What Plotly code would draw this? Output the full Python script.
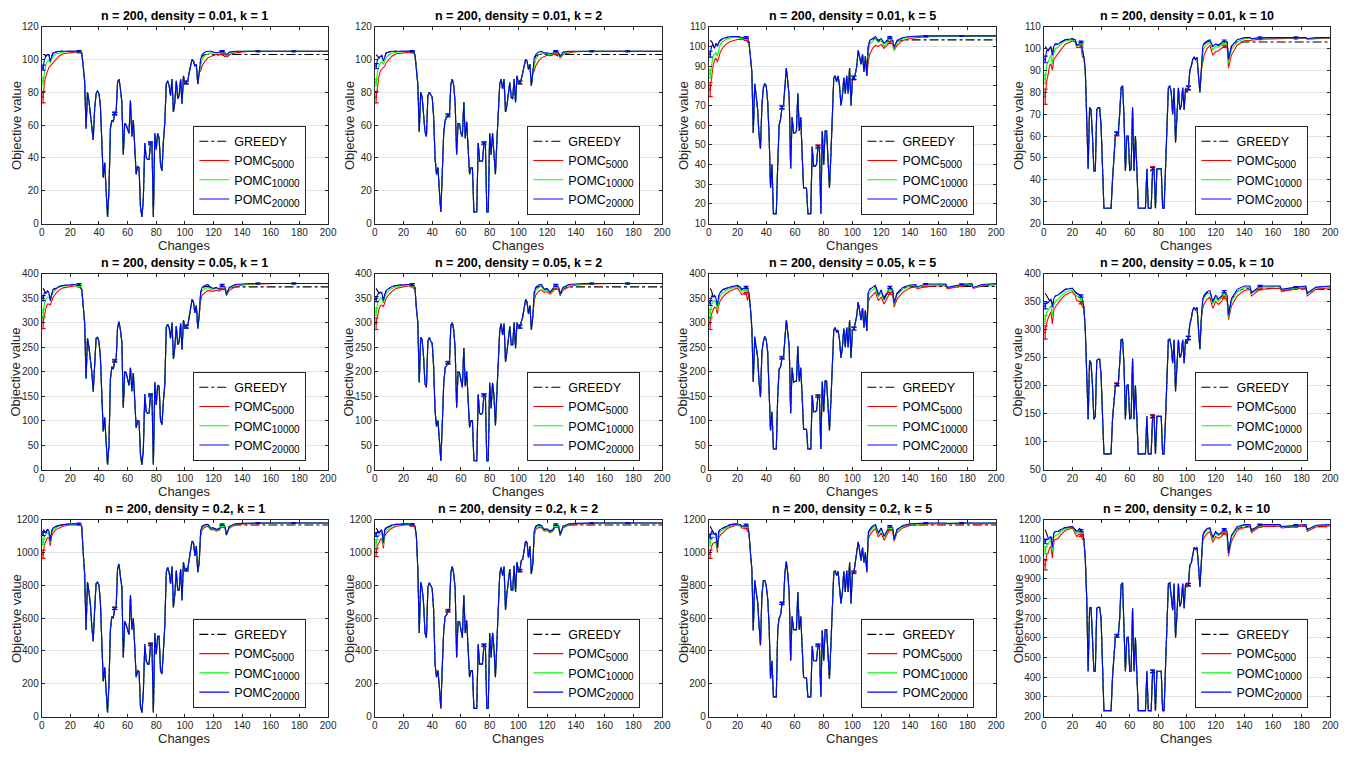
import plotly.graph_objects as go

# ---------------- x positions (changes) ----------------
HEAD_X = [1, 2, 3, 4, 5, 6, 7, 8, 10, 12, 15, 20, 22, 23, 25, 26, 27]
MID_X = list(range(28, 111))
TAIL_X = [111, 112, 114, 116, 118, 120, 122, 124, 126, 128, 129, 131, 135, 140,
          144, 145, 151, 165, 166, 176, 183, 184, 190, 200]
ERR_X = [1, 26, 51, 76, 101, 126, 151, 176]

SERIES = ["greedy", "red", "green", "blue"]
SUB = '<sub><span style="font-size:10px">{}</span></sub>'
NAMES = {"greedy": "GREEDY", "red": "POMC" + SUB.format("5000"),
         "green": "POMC" + SUB.format("10000"), "blue": "POMC" + SUB.format("20000")}

# ---------------- density 0.01 ----------------
HEAD_001_1 = dict(
    greedy=[103, 103, 102, 103, 103, 99, 102, 104, 104.5, 105, 105, 105, 105, 105, 105, 105, 105],
    red=[77, 86, 90, 93, 95, 96, 97, 98.5, 100.5, 102, 103.5, 104.3, 104.4, 104.5, 104.5, 104.5, 104],
    green=[87, 93, 97, 99, 99.5, 98, 100, 102, 103.5, 104, 104.6, 105, 105, 105, 105, 105, 104.5],
    blue=[95, 100, 102, 103, 103, 99, 102, 104, 104.5, 105, 105, 105, 105, 105, 105, 105, 105])
MID_001_1 = [104, 97, 87, 58, 80, 75, 67, 57, 51, 70,
             79, 81, 79, 72, 50, 28, 37, 15, 4, 20,
             58, 63, 62, 67, 68, 86, 88, 82, 74, 42,
             61, 60, 57, 55, 75, 53, 63, 47, 30, 35,
             34, 10, 4, 15, 49, 40, 39, 39, 49, 49,
             4, 55, 45, 55, 52, 36, 32, 50, 62, 85,
             87, 84, 78, 88, 68, 74, 87, 76, 78, 88,
             73, 90, 85, 86, 87, 92, 96, 100, 99, 96,
             97, 85, 92]
TAIL_001_1 = dict(
    greedy=[100, 102, 103, 103, 103, 103, 102, 103, 103, 102, 101, 103, 103, 103, 103, 103, 103, 103, 103, 103, 103, 103, 103, 103],
    red=[93, 96, 99, 101, 102, 102.5, 103, 103, 103.5, 103, 101.5, 103, 104, 104.7, 104.9, 105, 105, 105, 105, 105, 105, 105, 105, 105],
    green=[97, 100, 102.5, 103.5, 104, 104, 104, 104, 104.5, 103.5, 102.5, 104, 104.8, 105, 105, 105, 105, 105, 105, 105, 105, 105, 105, 105],
    blue=[100, 103, 104.5, 105, 105, 104.5, 104, 104.5, 105, 104, 103, 104.5, 105, 105, 105, 105, 105, 105, 105, 105, 105, 105, 105, 105])

HEAD_001_2 = dict(
    greedy=[103, 102, 101, 102, 102, 99, 102, 104, 104.5, 105, 105, 105, 105, 105, 105, 105, 105],
    red=[77, 85, 90, 93, 94, 95, 96, 98, 100, 102, 103.5, 104.2, 104.4, 104.5, 104.5, 104.5, 104],
    green=[86, 93, 96, 98, 98.5, 97, 99, 101, 103, 104, 104.5, 105, 105, 105, 105, 105, 104.5],
    blue=[96, 100, 101, 102, 102.5, 99, 102, 104, 104.5, 105, 105, 105, 105, 105, 105, 105, 105])
MID_001_2 = [103, 95, 85, 56, 80, 77, 68, 56, 53, 78,
             80, 78, 77, 65, 40, 30, 34, 20, 7, 30,
             55, 63, 65, 66, 66, 85, 88, 84, 73, 42,
             61, 61, 55, 53, 74, 52, 62, 45, 30, 34,
             34, 7, 7, 7, 49, 38, 38, 38, 49, 49,
             7, 7, 55, 42, 55, 45, 30, 50, 68, 85,
             88, 82, 88, 68, 72, 80, 86, 77, 76, 88,
             74, 90, 86, 86, 88, 92, 96, 100, 99, 94,
             97, 84, 92]
TAIL_001_2 = dict(
    greedy=[100, 102, 103, 103, 103, 103, 102, 103, 103, 102, 101, 103, 103, 103, 103, 103, 103, 103, 103, 103, 103, 103, 103, 103],
    red=[93, 96, 99, 101, 102, 102.5, 102.5, 103, 103.5, 103, 101, 103, 104, 104.7, 104.9, 105, 105, 105, 105, 105, 105, 105, 105, 105],
    green=[97, 100, 102.5, 104, 103.5, 103.5, 103, 103.5, 104.5, 103.5, 101.5, 104, 104.8, 105, 105, 105, 105, 105, 105, 105, 105, 105, 105, 105],
    blue=[101, 103, 104.5, 105, 104, 104, 103.5, 104, 105, 104, 102, 104.5, 105, 105, 105, 105, 105, 105, 105, 105, 105, 105, 105, 105])

HEAD_001_5 = dict(
    greedy=[103, 102.5, 101, 99, 101.5, 100, 102, 103, 104, 104.5, 105, 105, 104.5, 104.5, 104.5, 104.5, 104.5],
    red=[78, 86, 90, 93, 94, 92, 95, 97, 99.5, 101, 102.5, 103.5, 103.5, 103.5, 103.5, 103.5, 102],
    green=[86, 92, 95, 96, 97, 95, 99, 101, 102.5, 103.5, 104.3, 104.6, 104, 104, 104, 104, 103.5],
    blue=[96, 100, 101, 99, 101.5, 100, 102, 103, 104, 104.5, 105, 105, 104.5, 104.5, 104.5, 104.5, 104.5])
MID_001_5 = [102, 95, 87, 56, 81, 75, 68, 55, 48, 70,
             79, 81, 80, 72, 55, 28, 40, 15, 15, 15,
             40, 60, 63, 69, 70, 82, 89, 82, 74, 38,
             64, 56, 56, 57, 76, 57, 64, 45, 28, 28,
             28, 15, 15, 15, 49, 39, 39, 40, 49, 49,
             15, 57, 40, 57, 57, 45, 28, 45, 65, 84,
             85, 82, 85, 80, 70, 75, 84, 76, 85, 76,
             89, 70, 84, 84, 86, 90, 98, 94, 91, 96,
             87, 95, 85]
TAIL_001_5 = dict(
    greedy=[100, 102.5, 103.5, 104, 102.5, 103.5, 101.5, 103, 103.5, 103, 99.5, 102.5, 103.3, 103.3, 103.3, 103.3, 103.3, 103.3, 103.3, 103.3, 103.3, 103.3, 103.3, 103.3],
    red=[92, 96, 99, 100.5, 100, 101, 99, 100.5, 102, 101, 98, 100.5, 103, 104, 104.4, 104.6, 104.9, 105, 105, 105.2, 105.2, 105.2, 105.2, 105.2],
    green=[97, 101, 102.5, 104, 102, 103, 100, 102, 104, 102, 98.5, 102, 104, 104.8, 105, 105, 105.2, 105.2, 105.2, 105.2, 105.2, 105.2, 105.2, 105.2],
    blue=[100, 103, 104, 105, 103, 104, 101.5, 103, 104.5, 103, 99.5, 103, 104.5, 105, 105.2, 105.2, 105.3, 105.3, 105.3, 105.3, 105.3, 105.3, 105.3, 105.3])

HEAD_001_10 = dict(
    greedy=[101, 100, 99, 100, 101, 97, 101, 102, 102, 103, 104, 104.5, 104, 101.5, 102, 103, 100],
    red=[78, 85, 88, 92, 93, 90, 95, 96, 97.5, 99.5, 102, 103.5, 103, 100.5, 100.5, 101, 96],
    green=[86, 92, 94, 96, 97, 93, 98, 100, 100.5, 102, 103.5, 104, 103.5, 101, 101.5, 102.5, 98],
    blue=[95, 99, 99, 100, 101, 97, 101, 102, 102, 103, 104, 104.5, 104, 101.5, 102, 103, 100])
MID_001_10 = [96, 90, 70, 45, 73, 72, 60, 44, 44, 72,
              73, 73, 65, 45, 27, 27, 27, 27, 27, 27,
              40, 52, 60, 61, 61, 70, 82, 83, 70, 44,
              60, 60, 44, 45, 73, 44, 60, 45, 27, 27,
              27, 27, 27, 27, 45, 27, 27, 27, 45, 45,
              27, 45, 45, 45, 45, 27, 27, 45, 65, 82,
              83, 80, 70, 82, 57, 70, 82, 72, 74, 82,
              72, 82, 80, 82, 90, 92, 95, 96, 95, 96,
              88, 80, 90]
TAIL_001_10 = dict(
    greedy=[100, 102, 103, 103.5, 101, 102, 101.5, 102.5, 103, 103, 95, 101, 103, 103, 103, 103, 103, 103, 103, 103, 103, 103, 103, 103],
    red=[94, 97, 100, 101.5, 97, 98.5, 99, 100, 101, 101, 91, 97, 101.5, 103.5, 104, 103.8, 104.3, 104.5, 104.4, 104.6, 104.8, 104.3, 104.6, 104.8],
    green=[98, 100.5, 102, 103, 99.5, 101, 100.5, 101.5, 102.5, 102, 93.5, 99.5, 103, 104.5, 104.8, 104.3, 104.8, 105, 104.8, 105, 105, 104.3, 104.8, 105],
    blue=[101, 102.5, 103.5, 104, 101, 102, 101.5, 102.5, 103.5, 103, 95, 101, 104, 105, 105, 104.5, 105, 105, 105, 105, 105, 104.5, 105, 105])

# ---------------- density 0.05 ----------------
HEAD_005_1 = dict(
    greedy=[370, 365, 360, 364, 362, 345, 358, 368, 370, 374, 376, 378, 378, 378, 378, 378, 372],
    red=[300, 318, 330, 338, 338, 336, 345, 352, 360, 366, 371, 374, 375, 375, 375, 375, 370],
    green=[320, 340, 348, 352, 352, 350, 356, 362, 368, 372, 375, 377, 377, 377, 377, 376, 372],
    blue=[350, 362, 360, 365, 362, 345, 358, 368, 370, 374, 376, 378, 378, 378, 378, 378, 372])
MID_005_1 = [368, 335, 300, 186, 268, 250, 225, 200, 159, 230,
             268, 270, 262, 230, 150, 78, 106, 50, 10, 50,
             185, 210, 205, 222, 225, 290, 302, 285, 260, 127,
             200, 198, 185, 172, 208, 160, 197, 150, 85, 100,
             99, 30, 10, 40, 154, 118, 115, 115, 152, 153,
             10, 178, 132, 172, 170, 100, 92, 140, 175, 290,
             297, 290, 268, 300, 226, 250, 293, 255, 260, 298,
             245, 305, 290, 292, 295, 312, 330, 347, 342, 320,
             335, 288, 315]
TAIL_005_1 = dict(
    greedy=[362, 370, 374, 374, 372, 370, 370, 370, 373, 372, 360, 370, 373, 373, 373, 373, 373, 373, 373, 373, 373, 373, 373, 373],
    red=[345, 356, 362, 366, 365, 364, 366, 364, 370, 368, 355, 366, 373, 377, 378, 378, 379, 380, 380, 380, 380, 380, 380, 380],
    green=[355, 365, 370, 372, 369, 368, 370, 367, 374, 370, 357, 370, 376, 378, 379, 379, 380, 380, 380, 380, 380, 380, 380, 380],
    blue=[362, 372, 376, 378, 372, 370, 372, 368, 376, 372, 358, 372, 378, 379, 380, 380, 380, 380, 380, 380, 380, 380, 380, 380])

HEAD_005_2 = dict(
    greedy=[370, 365, 360, 362, 360, 345, 358, 366, 370, 374, 376, 378, 378, 378, 378, 378, 375],
    red=[298, 318, 328, 335, 336, 332, 342, 350, 358, 364, 370, 374, 375, 375, 375, 375, 370],
    green=[322, 340, 346, 350, 350, 340, 352, 360, 366, 370, 374, 377, 377, 377, 377, 377, 372],
    blue=[348, 358, 360, 362, 362, 345, 358, 366, 370, 374, 376, 378, 378, 378, 378, 378, 375])
MID_005_2 = [372, 330, 300, 178, 270, 265, 230, 175, 168, 262,
             270, 262, 258, 210, 120, 88, 100, 60, 18, 90,
             175, 208, 212, 218, 220, 295, 300, 285, 245, 127,
             200, 198, 180, 168, 248, 170, 200, 140, 86, 100,
             100, 18, 18, 18, 153, 115, 113, 115, 152, 152,
             18, 18, 177, 125, 177, 150, 90, 150, 200, 285,
             298, 275, 298, 220, 240, 265, 292, 255, 255, 300,
             248, 300, 290, 292, 300, 312, 330, 347, 342, 318,
             335, 285, 312]
TAIL_005_2 = dict(
    greedy=[362, 370, 374, 374, 368, 368, 362, 368, 373, 372, 360, 370, 373, 373, 373, 373, 373, 373, 373, 373, 373, 373, 373, 373],
    red=[345, 356, 364, 367, 362, 363, 358, 364, 370, 367, 355, 366, 373, 377, 378, 378, 379, 380, 380, 380, 380, 380, 380, 380],
    green=[355, 366, 372, 374, 366, 367, 360, 367, 374, 370, 357, 370, 376, 378, 379, 379, 380, 380, 380, 380, 380, 380, 380, 380],
    blue=[362, 372, 377, 378, 368, 370, 362, 370, 376, 372, 358, 372, 378, 379, 380, 380, 380, 380, 380, 380, 380, 380, 380, 380])

HEAD_005_5 = dict(
    greedy=[370, 365, 352, 356, 350, 335, 355, 362, 368, 370, 373, 376, 372, 368, 370, 372, 370],
    red=[298, 318, 325, 332, 330, 318, 335, 345, 353, 359, 365, 371, 362, 358, 360, 360, 345],
    green=[320, 338, 342, 345, 343, 325, 345, 355, 362, 366, 370, 374, 368, 364, 366, 367, 360],
    blue=[340, 355, 352, 356, 350, 335, 355, 362, 368, 370, 373, 376, 372, 368, 370, 372, 370])
MID_005_5 = [360, 330, 288, 179, 271, 250, 230, 180, 148, 240,
             262, 272, 265, 240, 170, 80, 118, 42, 42, 42,
             150, 205, 210, 228, 230, 270, 305, 280, 250, 115,
             208, 178, 180, 180, 252, 180, 208, 150, 82, 82,
             82, 42, 42, 42, 152, 118, 118, 120, 150, 150,
             42, 180, 118, 182, 180, 130, 80, 140, 210, 285,
             290, 280, 285, 265, 228, 250, 288, 250, 290, 250,
             305, 228, 285, 288, 300, 315, 342, 320, 305, 330,
             290, 325, 283]
TAIL_005_5 = dict(
    greedy=[362, 368, 372, 374, 360, 366, 350, 362, 370, 366, 342, 360, 370, 374, 374, 372, 374, 374, 371, 374, 374, 371, 374, 374],
    red=[342, 350, 356, 362, 345, 352, 338, 350, 360, 356, 332, 348, 362, 371, 373, 369, 374, 376, 369, 375, 377, 370, 375, 378],
    green=[355, 362, 367, 371, 352, 362, 345, 358, 368, 362, 337, 356, 368, 375, 376, 371, 377, 378, 371, 377, 379, 371, 377, 379],
    blue=[362, 368, 372, 376, 356, 366, 348, 362, 372, 366, 340, 360, 372, 377, 378, 373, 379, 379, 372, 378, 380, 372, 378, 380])

HEAD_005_10 = dict(
    greedy=[365, 360, 355, 352, 355, 340, 355, 360, 362, 366, 372, 374, 368, 365, 362, 360, 355],
    red=[295, 312, 320, 328, 332, 310, 335, 340, 348, 354, 362, 368, 360, 352, 350, 348, 340],
    green=[318, 330, 334, 340, 342, 325, 345, 350, 355, 360, 367, 371, 365, 360, 357, 355, 348],
    blue=[342, 350, 348, 352, 355, 340, 355, 360, 362, 366, 372, 374, 368, 365, 362, 360, 355])
MID_005_10 = [340, 300, 220, 140, 245, 240, 200, 140, 145, 245,
              247, 247, 220, 150, 78, 78, 78, 78, 78, 78,
              140, 180, 200, 202, 202, 240, 282, 283, 240, 140,
              200, 202, 140, 142, 248, 140, 200, 140, 78, 78,
              78, 78, 78, 78, 145, 78, 78, 78, 145, 145,
              78, 145, 145, 145, 145, 78, 78, 140, 210, 282,
              283, 270, 240, 282, 190, 240, 282, 250, 255, 282,
              240, 282, 275, 285, 310, 320, 335, 340, 335, 340,
              300, 265, 320]
TAIL_005_10 = dict(
    greedy=[352, 360, 366, 368, 350, 360, 352, 358, 365, 360, 325, 355, 368, 374, 374, 366, 374, 374, 370, 372, 373, 366, 372, 372],
    red=[338, 346, 354, 358, 338, 350, 345, 350, 358, 352, 318, 342, 360, 370, 372, 360, 372, 374, 368, 373, 375, 360, 372, 375],
    green=[350, 357, 363, 366, 346, 358, 351, 356, 364, 358, 322, 350, 368, 375, 376, 364, 376, 377, 371, 375, 377, 364, 375, 377],
    blue=[355, 362, 368, 370, 350, 362, 355, 360, 368, 362, 325, 355, 372, 378, 378, 366, 378, 378, 372, 376, 378, 365, 376, 378])

# ---------------- density 0.2 ----------------
HEAD_02_1 = dict(
    greedy=[1140, 1130, 1120, 1140, 1135, 1070, 1130, 1150, 1160, 1165, 1170, 1175, 1175, 1175, 1175, 1175, 1170],
    red=[990, 1050, 1070, 1090, 1090, 1040, 1100, 1120, 1140, 1150, 1160, 1168, 1170, 1170, 1170, 1170, 1165],
    green=[1065, 1100, 1110, 1120, 1120, 1060, 1120, 1140, 1150, 1160, 1168, 1172, 1172, 1172, 1172, 1172, 1168],
    blue=[1115, 1130, 1120, 1140, 1135, 1070, 1130, 1150, 1160, 1165, 1170, 1175, 1175, 1175, 1175, 1175, 1170])
MID_02_1 = [1160, 1000, 870, 530, 820, 760, 690, 550, 460, 650,
            810, 820, 800, 700, 420, 215, 300, 150, 25, 200,
            530, 610, 600, 660, 665, 900, 930, 850, 790, 360,
            580, 560, 530, 500, 740, 530, 600, 430, 240, 280,
            275, 60, 25, 150, 440, 340, 320, 320, 440, 440,
            25, 510, 380, 490, 490, 280, 260, 400, 560, 880,
            910, 880, 810, 915, 665, 750, 890, 770, 770, 900,
            710, 940, 895, 895, 900, 960, 1010, 1070, 1060, 980,
            1040, 880, 940]
TAIL_02_1 = dict(
    greedy=[1130, 1160, 1168, 1170, 1150, 1150, 1140, 1145, 1165, 1160, 1110, 1160, 1168, 1168, 1168, 1168, 1168, 1168, 1168, 1168, 1168, 1168, 1168, 1168],
    red=[1100, 1140, 1155, 1160, 1140, 1140, 1130, 1135, 1160, 1150, 1105, 1150, 1168, 1175, 1177, 1177, 1178, 1180, 1180, 1180, 1180, 1180, 1180, 1180],
    green=[1120, 1150, 1165, 1168, 1145, 1145, 1135, 1140, 1165, 1155, 1108, 1155, 1172, 1177, 1179, 1179, 1180, 1180, 1180, 1180, 1180, 1180, 1180, 1180],
    blue=[1130, 1160, 1170, 1172, 1150, 1150, 1140, 1145, 1170, 1160, 1110, 1160, 1175, 1178, 1180, 1180, 1180, 1180, 1180, 1180, 1180, 1180, 1180, 1180])

HEAD_02_2 = dict(
    greedy=[1150, 1130, 1120, 1130, 1140, 1060, 1140, 1150, 1160, 1168, 1172, 1175, 1175, 1175, 1170, 1172, 1170],
    red=[1000, 1045, 1060, 1080, 1085, 1025, 1100, 1115, 1135, 1148, 1160, 1168, 1170, 1170, 1165, 1166, 1160],
    green=[1060, 1100, 1105, 1115, 1120, 1040, 1120, 1135, 1150, 1160, 1168, 1172, 1172, 1172, 1168, 1170, 1165],
    blue=[1110, 1130, 1120, 1130, 1140, 1060, 1140, 1150, 1160, 1168, 1172, 1175, 1175, 1175, 1170, 1172, 1170])
MID_02_2 = [1160, 1100, 900, 510, 820, 780, 690, 510, 480, 790,
            815, 800, 780, 650, 320, 240, 280, 180, 50, 300,
            520, 610, 620, 645, 650, 880, 915, 870, 780, 360,
            580, 580, 540, 480, 740, 510, 585, 420, 240, 280,
            280, 50, 50, 50, 440, 320, 320, 320, 435, 435,
            50, 50, 510, 360, 510, 420, 240, 420, 620, 870,
            910, 860, 915, 650, 750, 850, 900, 770, 770, 920,
            760, 940, 890, 890, 950, 960, 1020, 1070, 1060, 970,
            1040, 870, 930]
TAIL_02_2 = dict(
    greedy=[1130, 1160, 1168, 1165, 1140, 1145, 1130, 1140, 1165, 1160, 1110, 1160, 1168, 1168, 1168, 1168, 1168, 1168, 1168, 1168, 1168, 1168, 1168, 1168],
    red=[1100, 1140, 1152, 1152, 1130, 1135, 1120, 1130, 1160, 1150, 1100, 1150, 1168, 1175, 1177, 1177, 1178, 1180, 1180, 1180, 1180, 1180, 1180, 1180],
    green=[1115, 1150, 1162, 1160, 1135, 1140, 1125, 1135, 1165, 1155, 1105, 1155, 1172, 1177, 1179, 1179, 1180, 1180, 1180, 1180, 1180, 1180, 1180, 1180],
    blue=[1130, 1160, 1170, 1165, 1140, 1145, 1130, 1140, 1170, 1160, 1110, 1160, 1175, 1178, 1180, 1180, 1180, 1180, 1180, 1180, 1180, 1180, 1180, 1180])

HEAD_02_5 = dict(
    greedy=[1160, 1140, 1120, 1110, 1120, 1030, 1130, 1140, 1150, 1160, 1170, 1175, 1170, 1160, 1165, 1168, 1165],
    red=[990, 1040, 1055, 1060, 1065, 1000, 1090, 1105, 1125, 1140, 1155, 1168, 1160, 1148, 1150, 1150, 1130],
    green=[1060, 1090, 1095, 1090, 1095, 1015, 1110, 1125, 1140, 1150, 1162, 1170, 1165, 1155, 1158, 1160, 1150],
    blue=[1100, 1130, 1120, 1110, 1120, 1030, 1130, 1140, 1150, 1160, 1170, 1175, 1170, 1160, 1165, 1168, 1165])
MID_02_5 = [1120, 1000, 900, 525, 830, 760, 700, 560, 435, 740,
            830, 830, 800, 720, 560, 230, 340, 120, 120, 120,
            530, 600, 620, 690, 690, 880, 945, 870, 750, 340,
            610, 530, 530, 530, 760, 530, 610, 400, 240, 235,
            235, 120, 120, 120, 430, 340, 340, 340, 435, 435,
            120, 525, 340, 530, 530, 380, 230, 440, 650, 880,
            890, 860, 885, 800, 690, 760, 885, 760, 890, 760,
            940, 690, 880, 880, 950, 1000, 1065, 1010, 950, 1030,
            940, 1000, 880]
TAIL_02_5 = dict(
    greedy=[1120, 1140, 1160, 1165, 1120, 1148, 1100, 1128, 1155, 1148, 1085, 1140, 1160, 1168, 1168, 1166, 1168, 1168, 1166, 1168, 1168, 1166, 1168, 1168],
    red=[1080, 1105, 1130, 1145, 1095, 1120, 1075, 1108, 1140, 1130, 1068, 1120, 1150, 1165, 1170, 1168, 1174, 1176, 1172, 1176, 1178, 1173, 1176, 1178],
    green=[1105, 1128, 1150, 1162, 1110, 1140, 1092, 1122, 1152, 1142, 1075, 1132, 1160, 1172, 1176, 1173, 1178, 1179, 1176, 1179, 1180, 1176, 1179, 1180],
    blue=[1120, 1140, 1160, 1170, 1120, 1150, 1100, 1130, 1160, 1150, 1080, 1140, 1165, 1175, 1178, 1175, 1180, 1180, 1177, 1180, 1180, 1177, 1180, 1180])

HEAD_02_10 = dict(
    greedy=[1150, 1130, 1110, 1110, 1115, 1060, 1130, 1140, 1140, 1150, 1160, 1165, 1150, 1140, 1155, 1145, 1140],
    red=[970, 1020, 1030, 1055, 1065, 1005, 1085, 1100, 1105, 1125, 1145, 1158, 1130, 1115, 1130, 1120, 1100],
    green=[1045, 1070, 1075, 1090, 1095, 1040, 1110, 1120, 1125, 1140, 1155, 1162, 1140, 1130, 1145, 1135, 1125],
    blue=[1090, 1100, 1100, 1110, 1115, 1060, 1130, 1140, 1140, 1150, 1160, 1165, 1150, 1140, 1155, 1145, 1140])
MID_02_10 = [1100, 1000, 800, 430, 750, 755, 600, 430, 430, 750,
             755, 755, 700, 500, 230, 230, 230, 230, 230, 230,
             400, 520, 605, 610, 610, 700, 870, 880, 700, 430,
             600, 605, 430, 430, 750, 430, 600, 430, 230, 230,
             230, 230, 230, 230, 430, 230, 230, 230, 430, 430,
             230, 430, 430, 430, 430, 230, 230, 450, 700, 875,
             880, 800, 740, 875, 600, 720, 875, 760, 780, 875,
             750, 875, 860, 870, 970, 980, 1030, 1060, 1050, 1060,
             970, 860, 980]
TAIL_02_10 = dict(
    greedy=[1115, 1135, 1150, 1155, 1105, 1135, 1120, 1130, 1145, 1138, 1030, 1118, 1155, 1165, 1166, 1150, 1166, 1166, 1160, 1166, 1166, 1150, 1165, 1165],
    red=[1090, 1110, 1130, 1140, 1085, 1115, 1105, 1115, 1132, 1120, 1015, 1090, 1145, 1160, 1165, 1135, 1165, 1168, 1158, 1165, 1168, 1140, 1163, 1168],
    green=[1110, 1130, 1148, 1153, 1100, 1132, 1118, 1128, 1144, 1133, 1025, 1110, 1158, 1170, 1172, 1142, 1172, 1173, 1163, 1170, 1173, 1147, 1170, 1173],
    blue=[1120, 1140, 1155, 1160, 1110, 1140, 1125, 1135, 1150, 1140, 1030, 1120, 1165, 1175, 1175, 1145, 1175, 1175, 1165, 1172, 1175, 1150, 1172, 1175])

# ---------------- error-bar half widths (per density) ----------------
ERR_001 = dict(red=[3.5, 0.5, 1.0, 1.0, 1.0, 0.5, 0.2, 0.2],
               green=[2.0, 0.4, 0.6, 0.6, 0.8, 0.4, 0.2, 0.2],
               blue=[1.5, 0.4, 0.6, 0.6, 0.8, 0.4, 0.2, 0.2])
ERR_005 = dict(red=[12, 2, 3, 3, 3, 2, 1, 1],
               green=[7, 2, 2, 2, 3, 2, 1, 1],
               blue=[5, 2, 2, 2, 3, 2, 1, 1])
ERR_02 = dict(red=[25, 5, 8, 8, 8, 5, 3, 3],
              green=[18, 5, 6, 6, 6, 5, 3, 3],
              blue=[12, 5, 6, 6, 6, 5, 3, 3])

# ---------------- axis settings ----------------
YRANGE = {
    ("0.01", 1): ([0, 120], 20), ("0.01", 2): ([0, 120], 20),
    ("0.01", 5): ([10, 110], 10), ("0.01", 10): ([20, 110], 10),
    ("0.05", 1): ([0, 400], 50), ("0.05", 2): ([0, 400], 50),
    ("0.05", 5): ([0, 400], 50), ("0.05", 10): ([50, 400], 50),
    ("0.2", 1): ([0, 1200], 200), ("0.2", 2): ([0, 1200], 200),
    ("0.2", 5): ([0, 1200], 200), ("0.2", 10): ([200, 1200], 100),
}

PANELS = [
    ("0.01", 1, HEAD_001_1, MID_001_1, TAIL_001_1, ERR_001),
    ("0.01", 2, HEAD_001_2, MID_001_2, TAIL_001_2, ERR_001),
    ("0.01", 5, HEAD_001_5, MID_001_5, TAIL_001_5, ERR_001),
    ("0.01", 10, HEAD_001_10, MID_001_10, TAIL_001_10, ERR_001),
    ("0.05", 1, HEAD_005_1, MID_005_1, TAIL_005_1, ERR_005),
    ("0.05", 2, HEAD_005_2, MID_005_2, TAIL_005_2, ERR_005),
    ("0.05", 5, HEAD_005_5, MID_005_5, TAIL_005_5, ERR_005),
    ("0.05", 10, HEAD_005_10, MID_005_10, TAIL_005_10, ERR_005),
    ("0.2", 1, HEAD_02_1, MID_02_1, TAIL_02_1, ERR_02),
    ("0.2", 2, HEAD_02_2, MID_02_2, TAIL_02_2, ERR_02),
    ("0.2", 5, HEAD_02_5, MID_02_5, TAIL_02_5, ERR_02),
    ("0.2", 10, HEAD_02_10, MID_02_10, TAIL_02_10, ERR_02),
]

# ---------------- styling ----------------
W, H = 1364, 758
COL_PX = [(39, 328), (375, 665), (712, 1002), (1050, 1339)]
ROW_PX = [(21, 221), (272, 471), (522, 722)]
COLORS = {"greedy": "#000000", "red": "#ff0000", "green": "#00ff00", "blue": "#0000ff"}
FONT = "Liberation Sans, Arial, Helvetica, sans-serif"
AXC = "#262626"

X_ALL = HEAD_X + MID_X + TAIL_X

fig = go.Figure()
layout = dict(width=W, height=H, margin=dict(l=0, r=0, t=0, b=0),
              paper_bgcolor="white", plot_bgcolor="white",
              font=dict(family=FONT, color=AXC), hovermode=False, annotations=[])

for i, (dens, k, head, mid, tail, err) in enumerate(PANELS):
    r, c = divmod(i, 4)
    x0, x1 = COL_PX[c]
    y0, y1 = ROW_PX[r]
    sfx = "" if i == 0 else str(i + 1)
    leg = "legend" if i == 0 else f"legend{i + 1}"
    assert len(mid) == len(MID_X), (dens, k, len(mid))
    ys = {}
    for s in SERIES:
        assert len(head[s]) == len(HEAD_X), (dens, k, s, "head")
        assert len(tail[s]) == len(TAIL_X), (dens, k, s, "tail")
        ys[s] = head[s] + mid + tail[s]
        fig.add_trace(go.Scatter(
            x=X_ALL, y=ys[s], mode="lines", name=NAMES[s],
            line=dict(color=COLORS[s], width=1.1,
                      dash="dashdot" if s == "greedy" else "solid"),
            xaxis="x" + sfx, yaxis="y" + sfx, legend=leg))
    for s in ["red", "green", "blue"]:
        lut = dict(zip(X_ALL, ys[s]))
        fig.add_trace(go.Scatter(
            x=ERR_X, y=[lut[x] for x in ERR_X], mode="markers",
            marker=dict(size=2, color=COLORS[s]),
            error_y=dict(type="data", array=err[s], color=COLORS[s],
                         thickness=1.2, width=2.5),
            showlegend=False, xaxis="x" + sfx, yaxis="y" + sfx))

    yr, ydt = YRANGE[(dens, k)]
    layout["xaxis" + sfx] = dict(
        domain=[x0 / W, x1 / W], anchor="y" + sfx, range=[0, 200], dtick=20, tick0=0,
        ticks="inside", ticklen=3, tickcolor=AXC, mirror="ticks", showline=True,
        linecolor=AXC, linewidth=0.8, showgrid=False, zeroline=False,
        tickfont=dict(size=10, color=AXC, family=FONT))
    layout["yaxis" + sfx] = dict(
        domain=[1 - y1 / H, 1 - y0 / H], anchor="x" + sfx, range=yr, dtick=ydt, tick0=0,
        ticks="inside", ticklen=3, tickcolor=AXC, mirror="ticks", showline=True,
        linecolor=AXC, linewidth=0.8, showgrid=True, gridcolor="#e4e4e4",
        gridwidth=1, zeroline=False, tickfont=dict(size=10, color=AXC, family=FONT))
    layout[leg] = dict(
        x=(x1 - 22) / W, y=1 - (y1 - 9) / H, xanchor="right", yanchor="bottom",
        bgcolor="white", bordercolor=AXC, borderwidth=1, itemwidth=30,
        tracegroupgap=0, font=dict(size=12.5, color="#000000", family=FONT))
    layout["annotations"] += [
        dict(text=f"<b>n = 200, density = {dens}, k = {k}</b>", x=(x0 + x1) / 2 / W,
             y=1 - (y0 - 11) / H, xref="paper", yref="paper",
             xanchor="center", yanchor="middle", showarrow=False,
             font=dict(size=12.5, color="#000000", family=FONT)),
        dict(text="Changes", x=(x0 + x1) / 2 / W, y=1 - (y1 + 22) / H,
             xref="paper", yref="paper", xanchor="center", yanchor="middle",
             showarrow=False, font=dict(size=13, color=AXC, family=FONT)),
        dict(text="Objective value", x=(x0 - 26) / W, y=1 - (y0 + y1) / 2 / H,
             xref="paper", yref="paper", xanchor="center", yanchor="middle",
             textangle=-90, showarrow=False, font=dict(size=13, color=AXC, family=FONT)),
    ]

fig.update_layout(**layout)
fig.write_html("out.html", config={"displayModeBar": False},
               post_script="document.body.style.margin='0';document.body.style.overflow='hidden';")
